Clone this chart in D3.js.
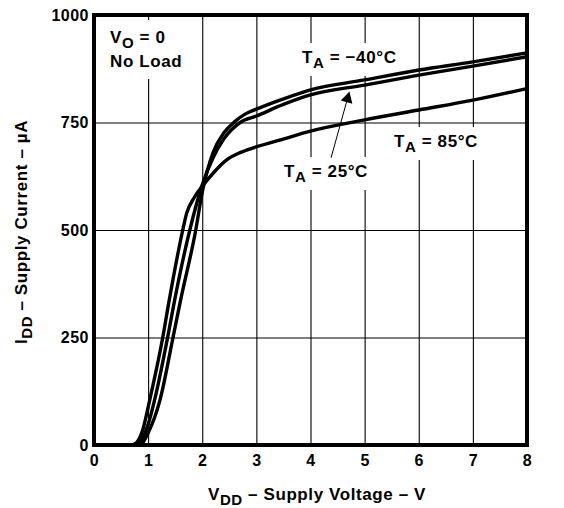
<!DOCTYPE html>
<html>
<head>
<meta charset="utf-8">
<title>Supply current vs supply voltage</title>
<script src="https://cdn.jsdelivr.net/npm/d3@7"></script>
<style>
  body { margin: 0; background: #fff; }
  svg { display: block; font-family: "Liberation Sans", Arial, Helvetica, sans-serif; }
  .grid line { stroke: #000; stroke-width: 1.1; }
  .grid path { display: none; }
  .axis path { display: none; }
  .axis text { font-size: 16px; font-weight: bold; fill: #000; letter-spacing: 0.5px; }
  .lbl { font-size: 17px; font-weight: bold; fill: #000; letter-spacing: 0.6px; }
</style>
</head>
<body>
<script>
// VDD in volts
const vddM40 = [0, 0.8, 0.88, 1.0, 1.22, 1.46, 1.6, 1.88, 2.0, 2.2, 2.4, 2.6, 2.8, 3.0, 3.5, 4, 5, 6, 7, 8];
const iddM40 = [0, 0, 3, 28, 105, 250, 337, 500, 588, 680, 726, 752, 770, 781, 805, 826, 849, 872, 891, 912];

const vdd25 = [0, 0.74, 0.82, 1.0, 1.12, 1.36, 1.49, 1.77, 2.0, 2.2, 2.4, 2.7, 3.0, 3.5, 4, 5, 6, 7, 8];
const idd25 = [0, 0, 3, 48, 105, 250, 337, 500, 605, 668, 712, 750, 765, 792, 814, 837, 860, 881, 903];

const vdd85 = [0, 0.68, 0.76, 0.9, 1.03, 1.27, 1.39, 1.64, 1.71, 1.85, 2.02, 2.2, 2.45, 2.7, 2.94, 3.43, 4, 5, 6, 7, 8];
const idd85 = [0, 0, 3, 35, 105, 250, 337, 500, 538, 575, 605, 632, 663, 680, 691, 709, 730, 756, 779, 802, 829];

const xTicks = [0, 1, 2, 3, 4, 5, 6, 7, 8];
const yTicks = [0, 250, 500, 750, 1000];

// arrow for the 25 C label: [V, uA] tail then tip
const arrowTail = [4.38, 668];
const arrowTip = [4.72, 822];

const W = 564, H = 508;
const pL = 94, pR = 527, pT = 15, pB = 445;

const svg = d3.select("body").append("svg")
    .attr("width", W).attr("height", H);

const x = d3.scaleLinear().domain([0, 8]).range([pL, pR]);
const y = d3.scaleLinear().domain([0, 1000]).range([pB, pT]);

// grid
svg.append("g").attr("class", "grid")
    .attr("transform", "translate(0," + pB + ")")
    .call(d3.axisBottom(x).tickValues(xTicks).tickSize(-(pB - pT)).tickFormat(""));
svg.append("g").attr("class", "grid")
    .attr("transform", "translate(" + pL + ",0)")
    .call(d3.axisLeft(y).tickValues(yTicks).tickSize(-(pR - pL)).tickFormat(""));

// tick labels
svg.append("g").attr("class", "axis")
    .attr("transform", "translate(0," + pB + ")")
    .call(d3.axisBottom(x).tickValues(xTicks).tickSize(0).tickPadding(10).tickFormat(d3.format("d")));
svg.append("g").attr("class", "axis")
    .attr("transform", "translate(" + pL + ",0)")
    .call(d3.axisLeft(y).tickValues(yTicks).tickSize(0).tickPadding(5).tickFormat(d3.format("d")));

// labels with white boxes so the grid breaks behind them
const labels = svg.append("g");

function subLabel(g, px, py, main, sub, rest) {
  const t = g.append("text").attr("class", "lbl").attr("x", px).attr("y", py);
  t.append("tspan").text(main);
  t.append("tspan").attr("dy", 5).attr("font-size", "15px").text(sub);
  t.append("tspan").attr("dy", -5).text(rest);
  return t;
}

function boxed(build, padX, padY) {
  const g = labels.append("g");
  build(g);
  const b = g.node().getBBox();
  g.insert("rect", ":first-child")
      .attr("x", b.x - padX).attr("y", b.y - padY)
      .attr("width", b.width + 2 * padX).attr("height", b.height + 2 * padY)
      .attr("fill", "#fff");
}

boxed(g => {
  subLabel(g, 110, 43, "V", "O", " = 0");
  g.append("text").attr("class", "lbl").attr("x", 110).attr("y", 67).text("No Load");
}, 6, 8);
boxed(g => subLabel(g, 302, 63, "T", "A", " = \u221240\u00b0C"), 4, 5);
boxed(g => subLabel(g, 394, 147, "T", "A", " = 85\u00b0C"), 4, 5);
boxed(g => subLabel(g, 284, 177, "T", "A", " = 25\u00b0C"), 4, 5);

// curves
const line = d3.line()
    .x(d => x(d[0])).y(d => y(d[1]))
    .curve(d3.curveMonotoneX);

const series = [
  d3.zip(vddM40, iddM40),
  d3.zip(vdd25, idd25),
  d3.zip(vdd85, idd85)
];

svg.append("g").selectAll("path")
    .data(series)
    .enter().append("path")
    .attr("d", line)
    .attr("fill", "none")
    .attr("stroke", "#000")
    .attr("stroke-width", 3.4)
    .attr("stroke-linejoin", "round");

// arrow
const tx = x(arrowTail[0]), ty = y(arrowTail[1]);
const hx = x(arrowTip[0]), hy = y(arrowTip[1]);
const ang = Math.atan2(hy - ty, hx - tx);
const headLen = 11, headW = 6;
const bx = hx - headLen * Math.cos(ang), by = hy - headLen * Math.sin(ang);
svg.append("line")
    .attr("x1", tx).attr("y1", ty).attr("x2", bx).attr("y2", by)
    .attr("stroke", "#000").attr("stroke-width", 1);
svg.append("path")
    .attr("d", "M" + hx + "," + hy +
      "L" + (bx + headW * Math.sin(ang)) + "," + (by - headW * Math.cos(ang)) +
      "L" + (bx - headW * Math.sin(ang)) + "," + (by + headW * Math.cos(ang)) + "Z")
    .attr("fill", "#000");

// frame
svg.append("rect")
    .attr("x", pL).attr("y", pT)
    .attr("width", pR - pL).attr("height", pB - pT)
    .attr("fill", "none").attr("stroke", "#000").attr("stroke-width", 4);

// axis titles
const xt = svg.append("text").attr("class", "lbl")
    .attr("x", 317).attr("y", 500).attr("text-anchor", "middle");
xt.append("tspan").text("V");
xt.append("tspan").attr("dy", 5).attr("font-size", "15px").text("DD");
xt.append("tspan").attr("dy", -5).text(" \u2013 Supply Voltage \u2013 V");

const yt = svg.append("text").attr("class", "lbl")
    .attr("transform", "translate(27," + 232 + ") rotate(-90)")
    .attr("text-anchor", "middle");
yt.append("tspan").text("I");
yt.append("tspan").attr("dy", 5).attr("font-size", "15px").text("DD");
yt.append("tspan").attr("dy", -5).text(" \u2013 Supply Current \u2013 \u00b5A");
</script>
</body>
</html>
